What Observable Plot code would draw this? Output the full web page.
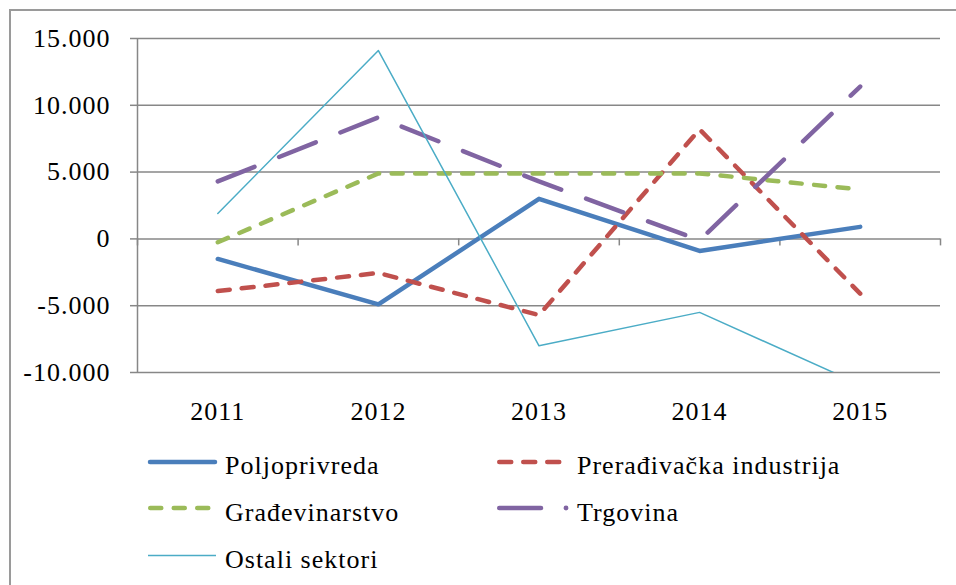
<!DOCTYPE html>
<html><head><meta charset="utf-8">
<script src="https://cdn.jsdelivr.net/npm/d3@7"></script>
<script src="https://cdn.jsdelivr.net/npm/@observablehq/plot@0.6"></script>
<style>
body{margin:0;background:#fff;}
#wrap{position:relative;width:956px;height:585px;overflow:hidden;font-family:"Liberation Serif",serif;}
#frame{position:absolute;left:9px;top:9px;width:1000px;height:1000px;border:2px solid #9a9a9a;}
#chart{position:absolute;left:0;top:0;}
#legend{position:absolute;left:0;top:0;}
</style></head><body>
<div id="wrap"><div id="chart"></div><svg id="legend" width="956" height="585"></svg><div id="frame"></div></div>
<script>
const years = [2011, 2012, 2013, 2014, 2015];
const poljoprivreda = [-1500, -4900, 3000, -900, 900];
const preradjivacka = [-3900, -2550, -5700, 8200, -4100];
const gradjevinarstvo = [-250, 4900, 4900, 4900, 3700];
const trgovina = [4300, 9100, 4300, -100, 11400];
const ostali = [1900, 14100, -8000, -5500, -10900];
const seriesNames = ["Poljoprivreda", "Prerađivačka industrija", "Građevinarstvo", "Trgovina", "Ostali sektori"];
const yTicks = [-10000, -5000, 0, 5000, 10000, 15000];
const yTickLabels = ["-10.000", "-5.000", "0", "5.000", "10.000", "15.000"];
const xTickLabels = ["2011", "2012", "2013", "2014", "2015"];

const seriesValues = [poljoprivreda, preradjivacka, gradjevinarstvo, trgovina, ostali];
const styles = [
  {stroke: "#4a7ebb", strokeWidth: 4.5, strokeDasharray: null},
  {stroke: "#c0504d", strokeWidth: 4.5, strokeDasharray: "12,12"},
  {stroke: "#9bbb59", strokeWidth: 4.5, strokeDasharray: "11,12.5"},
  {stroke: "#8064a2", strokeWidth: 4.5, strokeDasharray: "39.5,26.5"},
  {stroke: "#4bacc6", strokeWidth: 1.5, strokeDasharray: null}
];
const rows = seriesNames.map((name, s) => years.map((year, i) => ({series: name, year, value: seriesValues[s][i]})));

const xDomain = [years[0] - 0.5, years[years.length - 1] + 0.5];
const boundaries = d3.range(years.length + 1).map(i => xDomain[0] + i);
const gridColor = "#878787";

const lineMarks = rows.map((data, s) => Plot.line(data, {
  x: "year", y: "value",
  stroke: styles[s].stroke, strokeWidth: styles[s].strokeWidth,
  strokeDasharray: styles[s].strokeDasharray || undefined,
  strokeLinecap: "round", strokeLinejoin: "round", clip: true
}));

const chart = Plot.plot({
  width: 956, height: 440,
  marginTop: 38, marginBottom: 68, marginLeft: 137, marginRight: 16,
  style: {background: "none", fontFamily: "Liberation Serif", fontSize: "26px", color: "#000", letterSpacing: "1px"},
  x: {type: "linear", domain: xDomain, label: null},
  y: {domain: [yTicks[0], yTicks[yTicks.length - 1]], label: null},
  marks: [
    Plot.gridY(yTicks, {stroke: gridColor, strokeOpacity: 1, strokeWidth: 1.5}),
    Plot.ruleX([xDomain[0]], {y1: yTicks[0], y2: yTicks[yTicks.length - 1], stroke: gridColor, strokeWidth: 1.5}),
    Plot.ruleX(boundaries, {y1: 0, y2: 0, insetTop: 7, stroke: gridColor, strokeWidth: 1.5}),
    Plot.axisY(yTicks, {tickSize: 7, tickPadding: 20, stroke: gridColor, strokeWidth: 1.5, fill: "#000", label: null,
      tickFormat: d => yTickLabels[yTicks.indexOf(d)]}),
    Plot.axisX(years, {tickSize: 0, tickPadding: 29, fill: "#000", label: null,
      tickFormat: d => xTickLabels[years.indexOf(d)]}),
    ...lineMarks
  ]
});
document.getElementById("chart").appendChild(chart);

// Legend
const leg = d3.select("#legend");
const legendPos = [
  {x1: 150, x2: 215, y: 462, tx: 225, ty: 474},
  {x1: 499.25, x2: 559.5, y: 462, tx: 577, ty: 474},
  {x1: 150.25, x2: 210, y: 508, tx: 225, ty: 521},
  {x1: 499.25, x2: 541, y: 508, tx: 577, ty: 521, dot: 566},
  {x1: 148, x2: 216, y: 555.5, tx: 225, ty: 568}
];
seriesNames.forEach((name, s) => {
  const p = legendPos[s], st = styles[s];
  leg.append("line").attr("x1", p.x1).attr("x2", p.x2).attr("y1", p.y).attr("y2", p.y)
    .attr("stroke", st.stroke).attr("stroke-width", st.strokeWidth)
    .attr("stroke-linecap", s === 4 ? "butt" : "round")
    .attr("stroke-dasharray", s === 3 ? null : st.strokeDasharray);
  if (p.dot) leg.append("circle").attr("cx", p.dot).attr("cy", p.y).attr("r", 2.4).attr("fill", st.stroke);
  leg.append("text").attr("x", p.tx).attr("y", p.ty).text(name)
    .attr("font-family", "Liberation Serif").attr("font-size", 26).attr("letter-spacing", "1px").attr("fill", "#000");
});
</script>
</body></html>
